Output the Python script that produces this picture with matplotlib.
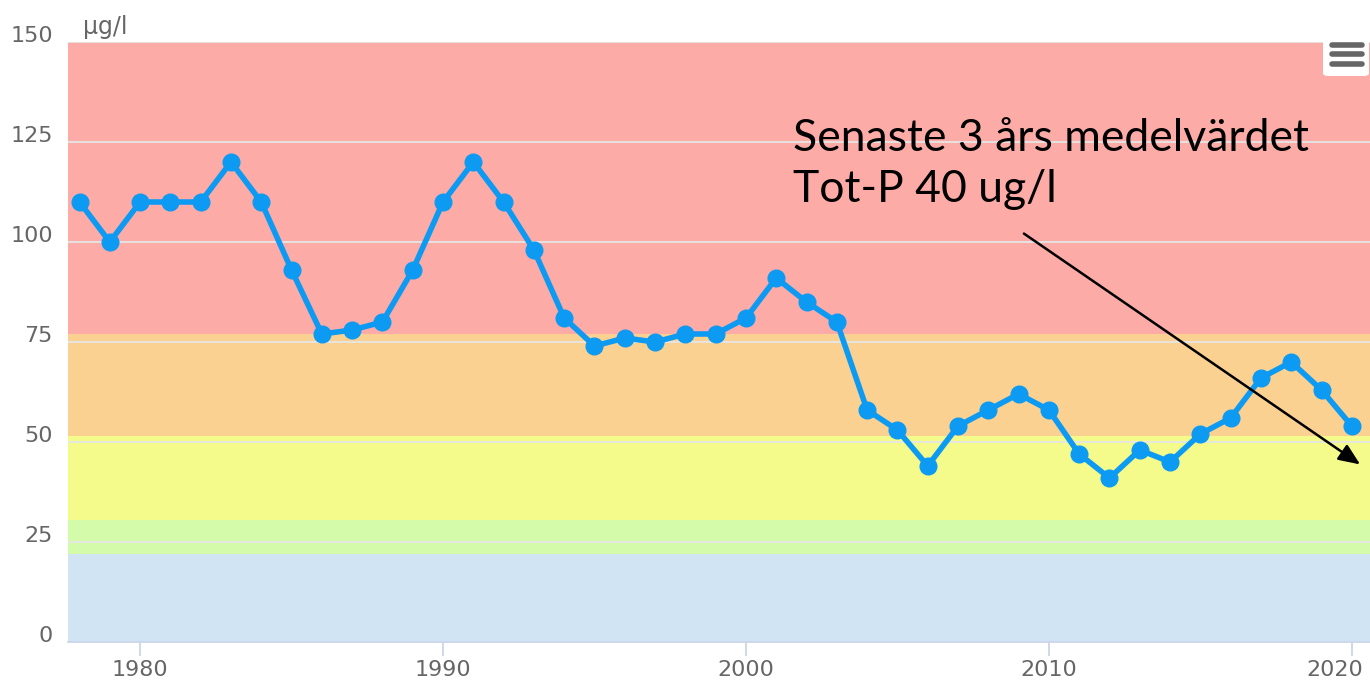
import matplotlib
matplotlib.use("Agg")
import matplotlib.pyplot as plt
from matplotlib.patches import FancyBboxPatch
from matplotlib.lines import Line2D
from matplotlib.transforms import ScaledTranslation

years = list(range(1978, 2021))
values = [110, 100, 110, 110, 110, 120, 110, 93, 77, 78, 80, 93, 110, 120, 110, 98,
          81, 74, 76, 75, 77, 77, 81, 91, 85, 80, 58, 53, 44, 54, 58, 62, 58, 47, 41,
          48, 45, 52, 56, 66, 70, 63, 54]

band_edges = [0, 22, 30.5, 51.5, 77, 150]
band_colors = ["#d0e4f3", "#d3fbaa", "#f4fb8a", "#fbd191", "#fdaba7"]

y_ticks = [0, 25, 50, 75, 100, 125, 150]
x_ticks = [1980, 1990, 2000, 2010, 2020]

fig = plt.figure(figsize=(13.7, 6.84), dpi=100)
ax = fig.add_axes([68/1370, 1-642/684, 1-68/1370, 600/684])

for i, c in enumerate(band_colors):
    ax.axhspan(band_edges[i], band_edges[i+1], color=c, zorder=0, lw=0)

for t in y_ticks[1:]:
    ax.axhline(t, color="#e6e6e6", lw=1.3, zorder=1)

ax.plot(years, values, color="#0d9af3", lw=4, marker="o", ms=12, zorder=3,
        solid_capstyle="round", solid_joinstyle="round")

ax.set_xlim(1977.62, 2020.6)
ax.set_ylim(0, 150)
ax.set_yticks(y_ticks)
ax.set_xticks(x_ticks)
ax.tick_params(axis="y", length=0, pad=11, labelsize=16, labelcolor="#666666")
ax.tick_params(axis="x", length=10, width=1.3, color="#ccd6eb", pad=3,
               labelsize=16, labelcolor="#666666")
yoff = ScaledTranslation(0, 6/100, fig.dpi_scale_trans)
for lab in ax.get_yticklabels():
    lab.set_verticalalignment("center")
    lab.set_transform(lab.get_transform() + yoff)
xlabs = ax.get_xticklabels()
xlabs[-1].set_horizontalalignment("right")
xlabs[-1].set_transform(xlabs[-1].get_transform() + ScaledTranslation(11/100, 0, fig.dpi_scale_trans))
for s in ["top", "right", "left"]:
    ax.spines[s].set_visible(False)
ax.spines["bottom"].set_color("#ccd6eb")
ax.spines["bottom"].set_linewidth(1.3)

fig.text(83/1370, 1-39/684, "µg/l", fontsize=17, color="#666666", ha="left", va="bottom")

ax.text(2001.55, 119.5, "Senaste 3 års medelvärdet\nTot-P 40 ug/l", fontsize=32,
        family="Lato", color="black", ha="left", va="center", linespacing=1.3, zorder=5)
ax.annotate("", xy=(2020.35, 44), xytext=(2009.1, 102.5),
            arrowprops=dict(arrowstyle="-|>,head_length=1.3,head_width=0.55",
                            color="black", lw=1.8), zorder=5)

# menu button
fig.patches.append(FancyBboxPatch((1323/1370, 1-76/684), 46/1370, 37/684,
                                  boxstyle="round,pad=0,rounding_size=0.004",
                                  transform=fig.transFigure, fc="white", ec="none", zorder=6))
for yy in [45, 54, 64]:
    fig.lines.append(Line2D([1332/1370, 1362/1370], [1-yy/684, 1-yy/684],
                            transform=fig.transFigure, color="#666666", lw=4,
                            solid_capstyle="round", zorder=7))

fig.savefig("out.png", dpi=100)
